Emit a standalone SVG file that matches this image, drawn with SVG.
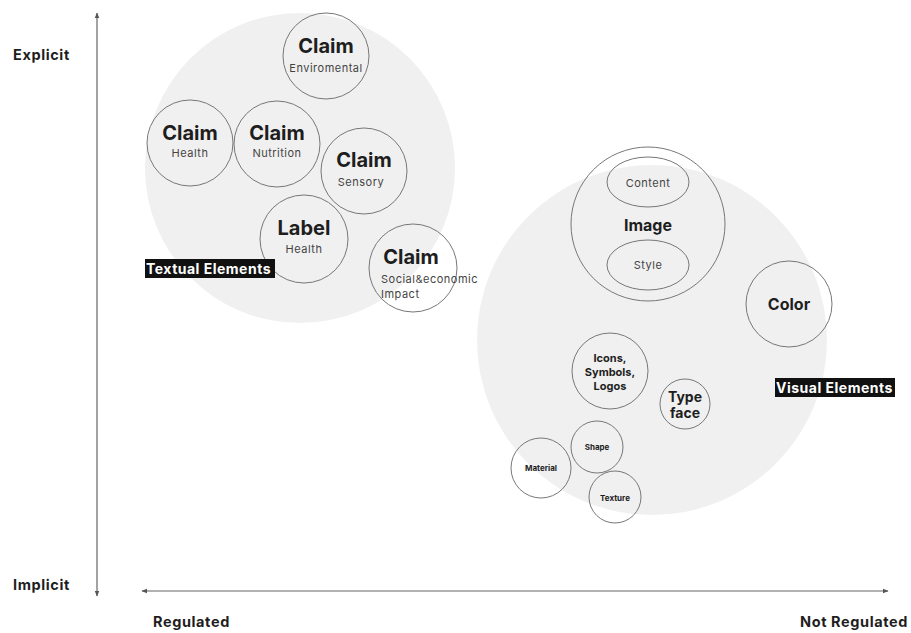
<svg xmlns="http://www.w3.org/2000/svg" width="911" height="633" viewBox="0 0 911 633">
<defs>
<marker id="ah" viewBox="0 0 10 10" refX="9" refY="5" markerWidth="6" markerHeight="6" orient="auto-start-reverse" markerUnits="userSpaceOnUse">
<path d="M0,1 L10,5 L0,9 z" fill="#555"/>
</marker>
<style>
.bg{fill:#f0f0f0;stroke:none}
.n{fill:none;stroke:#777;stroke-width:1}
.t{font-family:Inter,"Liberation Sans",sans-serif;font-weight:700;fill:#1e1e1e;text-anchor:middle}
.s{font-family:Inter,"Liberation Sans",sans-serif;font-weight:400;fill:#444;text-anchor:middle;font-size:11px;letter-spacing:0.5px}
.ax{font-family:Inter,"Liberation Sans",sans-serif;font-weight:700;fill:#1e1e1e;font-size:14.5px;letter-spacing:0.6px}
.lb{font-family:Inter,"Liberation Sans",sans-serif;font-weight:700;fill:#fff;font-size:14px;letter-spacing:0.5px}
.big{font-size:20px}
.mid{font-size:16px}
</style>
</defs>
<rect width="911" height="633" fill="#fff"/>
<g id="textual-group">
<circle class="bg" cx="300" cy="168" r="155"/>
</g>
<g id="visual-group">
<circle class="bg" cx="652" cy="340" r="175"/>
</g>
<g id="connectors">
<line x1="97" y1="596" x2="97" y2="13" stroke="#666" stroke-width="1.2" marker-start="url(#ah)" marker-end="url(#ah)"/>
<line x1="142" y1="591" x2="888" y2="591" stroke="#666" stroke-width="1.2" marker-start="url(#ah)" marker-end="url(#ah)"/>
</g>
<g id="claim-env"><circle class="n" cx="326" cy="56" r="43"/><text class="t big" x="326" y="53">Claim</text><text class="s" x="326" y="72">Enviromental</text></g>
<g id="claim-health"><circle class="n" cx="190" cy="143" r="43"/><text class="t big" x="190" y="140">Claim</text><text class="s" x="190" y="157">Health</text></g>
<g id="claim-nutrition"><circle class="n" cx="277" cy="144" r="43"/><text class="t big" x="277" y="140">Claim</text><text class="s" x="277" y="157">Nutrition</text></g>
<g id="claim-sensory"><circle class="n" cx="364" cy="171" r="43"/><text class="t big" x="364" y="167">Claim</text><text class="s" x="361" y="186">Sensory</text></g>
<g id="label-health"><circle class="n" cx="304" cy="239" r="44"/><text class="t big" x="304" y="235">Label</text><text class="s" x="304" y="253">Health</text></g>
<g id="claim-social"><circle class="n" cx="413" cy="268" r="44"/><text class="t big" x="411" y="264">Claim</text><text class="s" x="381" y="283" style="text-anchor:start">Social&amp;economic</text><text class="s" x="381" y="298" style="text-anchor:start">Impact</text></g>
<g id="textual-label"><rect x="145" y="259" width="130" height="19" fill="#111"/><text class="lb" x="146" y="273.5">Textual Elements</text></g>
<g id="image"><circle class="n" cx="648" cy="224" r="77"/><text class="t mid" x="648" y="231">Image</text></g>
<g id="content"><ellipse class="n" cx="648" cy="182" rx="41" ry="25"/><text class="s" x="648" y="187">Content</text></g>
<g id="style"><ellipse class="n" cx="648" cy="265" rx="41" ry="25"/><text class="s" x="648" y="269">Style</text></g>
<g id="color"><circle class="n" cx="789" cy="304" r="43"/><text class="t mid" x="789" y="310">Color</text></g>
<g id="icons"><circle class="n" cx="610" cy="371" r="38"/><text class="t" font-size="11" x="610" y="362">Icons,</text><text class="t" font-size="11" x="610" y="376">Symbols,</text><text class="t" font-size="11" x="610" y="390">Logos</text></g>
<g id="typeface"><circle class="n" cx="685" cy="404" r="25"/><text class="t" font-size="14" x="685" y="402">Type</text><text class="t" font-size="14" x="685" y="418">face</text></g>
<g id="shape"><circle class="n" cx="597" cy="447" r="26"/><text class="t" font-size="8" x="597" y="450">Shape</text></g>
<g id="material"><circle class="n" cx="541" cy="468" r="30"/><text class="t" font-size="8" x="541" y="471">Material</text></g>
<g id="texture"><circle class="n" cx="615" cy="497" r="26"/><text class="t" font-size="8" x="615" y="501">Texture</text></g>
<g id="visual-label"><rect x="775" y="378" width="120" height="19" fill="#111"/><text class="lb" x="776" y="392.5">Visual Elements</text></g>
<g id="axis-labels">
<text class="ax" x="13" y="60">Explicit</text>
<text class="ax" x="13" y="590">Implicit</text>
<text class="ax" x="153" y="627">Regulated</text>
<text class="ax" x="800" y="627">Not Regulated</text>
</g>
</svg>
